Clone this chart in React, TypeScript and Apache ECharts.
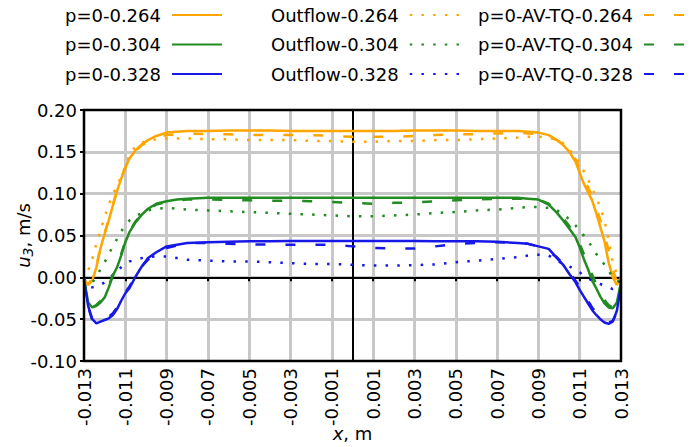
import React, { useEffect, useRef } from "react";
import * as echarts from "echarts";

// x positions (m)
const X = [
  -0.013, -0.0128, -0.0126, -0.0124, -0.0122, -0.012, -0.0118, -0.0116, -0.0114, -0.0112, -0.011,
  -0.0108, -0.0105, -0.0102, -0.0099, -0.0095, -0.009, -0.0085, -0.008,
  -0.007, -0.006, -0.005, -0.004, -0.003, -0.002, -0.001, 0, 0.001, 0.002, 0.003, 0.004, 0.005, 0.006, 0.007,
  0.008, 0.0085, 0.009, 0.0095, 0.0099, 0.0102, 0.0105, 0.0108,
  0.011, 0.0112, 0.0114, 0.0116, 0.0118, 0.012, 0.0122, 0.0124, 0.0126, 0.0128, 0.013,
];

// u3 (m/s)
const p264 = [
  -0.003, -0.009, -0.004, 0.012, 0.035, 0.052, 0.068, 0.086, 0.103, 0.118, 0.131,
  0.142, 0.152, 0.159, 0.164, 0.169, 0.173, 0.174, 0.175,
  0.175, 0.1755, 0.1755, 0.1755, 0.175, 0.175, 0.175, 0.175, 0.175, 0.175, 0.1755, 0.1755, 0.1755, 0.175, 0.175,
  0.175, 0.174, 0.173, 0.17, 0.164, 0.158, 0.15, 0.138,
  0.125, 0.112, 0.102, 0.092, 0.077, 0.06, 0.043, 0.018, 0.0, -0.009, 0.0,
];
const p304 = [
  -0.002, -0.03, -0.036, -0.034, -0.03, -0.024, -0.012, 0.002, 0.012, 0.026, 0.042,
  0.054, 0.066, 0.075, 0.082, 0.088, 0.091, 0.093, 0.094,
  0.095, 0.095, 0.095, 0.095, 0.095, 0.095, 0.095, 0.095, 0.095, 0.095, 0.095, 0.095, 0.095, 0.095, 0.095,
  0.095, 0.094, 0.093, 0.087, 0.077, 0.068, 0.058, 0.048,
  0.036, 0.022, 0.01, -0.004, -0.013, -0.023, -0.031, -0.036, -0.037, -0.03, -0.006,
];
const p328 = [
  -0.002, -0.034, -0.05, -0.055, -0.053, -0.051, -0.049, -0.045, -0.038, -0.028, -0.019,
  -0.013, 0.001, 0.013, 0.023, 0.03, 0.037, 0.039, 0.041,
  0.042, 0.0425, 0.043, 0.043, 0.0435, 0.0435, 0.0435, 0.0435, 0.0435, 0.0435, 0.0435, 0.043, 0.043, 0.043, 0.0425,
  0.041, 0.04, 0.037, 0.034, 0.023, 0.015, 0.004, -0.006,
  -0.015, -0.023, -0.031, -0.039, -0.045, -0.05, -0.054, -0.0555, -0.053, -0.04, -0.01,
];
const out264 = [
  -0.004, 0.008, 0.022, 0.04, 0.056, 0.072, 0.087, 0.099, 0.11, 0.12, 0.133,
  0.146, 0.157, 0.161, 0.163, 0.165, 0.166, 0.166, 0.166,
  0.165, 0.165, 0.164, 0.164, 0.164, 0.163, 0.163, 0.162, 0.162, 0.163, 0.163, 0.164, 0.164, 0.165, 0.166,
  0.167, 0.168, 0.168, 0.167, 0.164, 0.16, 0.153, 0.144,
  0.136, 0.127, 0.117, 0.107, 0.096, 0.083, 0.068, 0.045, 0.018, 0.004, 0.001,
];
const out304 = [
  -0.002, -0.008, -0.006, 0.0, 0.01, 0.018, 0.028, 0.037, 0.046, 0.055, 0.062,
  0.068, 0.073, 0.077, 0.08, 0.082, 0.083, 0.082, 0.081,
  0.08, 0.079, 0.078, 0.077, 0.076, 0.075, 0.074, 0.073, 0.073, 0.074, 0.075, 0.077, 0.078, 0.08, 0.081,
  0.083, 0.084, 0.084, 0.083, 0.08, 0.076, 0.069, 0.062,
  0.055, 0.05, 0.044, 0.036, 0.028, 0.022, 0.015, 0.008, 0.0, -0.004, -0.005,
];
const out328 = [
  -0.002, -0.011, -0.012, -0.011, -0.009, -0.006, -0.002, 0.003, 0.008, 0.012, 0.016,
  0.019, 0.021, 0.023, 0.024, 0.025, 0.025, 0.023, 0.021,
  0.02, 0.019, 0.019, 0.018, 0.017, 0.016, 0.016, 0.015, 0.014, 0.014, 0.0145, 0.0155, 0.018, 0.02, 0.022,
  0.024, 0.026, 0.027, 0.026, 0.02, 0.016, 0.013, 0.009,
  0.006, 0.002, -0.001, -0.004, -0.006, -0.008, -0.01, -0.012, -0.014, -0.012, -0.004,
];
const av264 = [
  -0.004, -0.008, -0.002, 0.014, 0.036, 0.053, 0.07, 0.087, 0.104, 0.119, 0.131,
  0.141, 0.151, 0.158, 0.162, 0.167, 0.17, 0.171, 0.172,
  0.171, 0.171, 0.17, 0.17, 0.17, 0.17, 0.169, 0.168, 0.168, 0.168, 0.169, 0.17, 0.171, 0.171, 0.172,
  0.173, 0.172, 0.171, 0.168, 0.164, 0.159, 0.152, 0.141,
  0.13, 0.118, 0.108, 0.097, 0.084, 0.068, 0.052, 0.032, 0.01, -0.006, -0.003,
];
const av304 = [
  -0.004, -0.031, -0.036, -0.033, -0.028, -0.021, -0.01, 0.003, 0.014, 0.028, 0.043,
  0.055, 0.067, 0.075, 0.081, 0.087, 0.09, 0.092, 0.093,
  0.093, 0.0925, 0.092, 0.0915, 0.0915, 0.091, 0.09, 0.089, 0.088, 0.089, 0.0895, 0.091, 0.092, 0.093, 0.094,
  0.094, 0.094, 0.093, 0.088, 0.079, 0.071, 0.061, 0.05,
  0.04, 0.028, 0.016, 0.003, -0.008, -0.018, -0.027, -0.033, -0.036, -0.03, -0.008,
];
const av328 = [
  -0.004, -0.036, -0.051, -0.054, -0.052, -0.05, -0.047, -0.043, -0.036, -0.027, -0.018,
  -0.011, 0.002, 0.013, 0.021, 0.029, 0.035, 0.038, 0.041,
  0.041, 0.04, 0.0395, 0.039, 0.039, 0.039, 0.039, 0.037, 0.035, 0.0345, 0.0345, 0.037, 0.04, 0.041, 0.042,
  0.041, 0.04, 0.037, 0.031, 0.024, 0.016, 0.006, -0.004,
  -0.012, -0.02, -0.028, -0.036, -0.042, -0.048, -0.052, -0.054, -0.052, -0.042, -0.012,
];

const X_TICK_MIN = -0.013;
const X_TICK_MAX = 0.013;
const X_TICK_STEP = 0.002;

const ORANGE = "#FFA500";
const GREEN = "#228B22";
const BLUE = "#1818E6";
const FONT = "DejaVu Sans";

const toMm = (x: number) => Math.round((x - X_TICK_MIN) * 1e6) / 1000; // offset in mm from -0.013

export default function App() {
  const ref = useRef<HTMLDivElement>(null);
  useEffect(() => {
    if (!ref.current) return;
    const chart = echarts.init(ref.current, null, { renderer: "svg" });
    const mk = (name: string, ys: number[], color: string, kind: "solid" | "dot" | "dash") => ({
      name,
      type: "line",
      symbol: "none",
      data: X.map((x, i) => [toMm(x), ys[i]]),
      lineStyle: {
        color,
        width: 2.5,
        type: kind === "solid" ? "solid" : kind === "dot" ? [2.5, 9.2] : [10, 20],
        cap: "butt",
      },
      itemStyle: { color },
      z: 3,
    });
    const series: any[] = [
      mk("p=0-0.264", p264, ORANGE, "solid"),
      mk("p=0-0.304", p304, GREEN, "solid"),
      mk("p=0-0.328", p328, BLUE, "solid"),
      mk("Outflow-0.264", out264, ORANGE, "dot"),
      mk("Outflow-0.304", out304, GREEN, "dot"),
      mk("Outflow-0.328", out328, BLUE, "dot"),
      mk("p=0-AV-TQ-0.264", av264, ORANGE, "dash"),
      mk("p=0-AV-TQ-0.304", av304, GREEN, "dash"),
      mk("p=0-AV-TQ-0.328", av328, BLUE, "dash"),
    ];
    series.push({
      type: "line",
      data: [],
      silent: true,
      z: 1,
      markLine: {
        silent: true,
        symbol: "none",
        label: { show: false },
        lineStyle: { color: "#000", width: 2, type: "solid" },
        z: 1,
        data: [{ xAxis: toMm(0) }, { yAxis: 0 }],
      },
    });
    const span = toMm(X_TICK_MAX);
    const step = Math.round(X_TICK_STEP * 1000);
    const legendBase = {
      orient: "vertical",
      align: "right",
      top: 5,
      padding: 0,
      itemWidth: 50,
      itemHeight: 10,
      itemGap: 9.5,
      selectedMode: false,
      itemStyle: { color: "rgba(0,0,0,0)", borderColor: "rgba(0,0,0,0)", borderWidth: 0 },
      textStyle: { fontFamily: FONT, fontSize: 18, color: "#000", lineHeight: 20, padding: [0, 6, 0, 0] },
    };
    const labelStyle = { fontFamily: FONT, fontSize: 18, color: "#000" };
    chart.setOption({
      animation: false,
      backgroundColor: "#fff",
      grid: {
        left: 84,
        right: 73,
        top: 110,
        bottom: 86,
        containLabel: false,
        outerBoundsMode: "none",
        show: true,
        borderColor: "#000",
        borderWidth: 2.5,
        backgroundColor: "transparent",
        z: 10,
      },
      legend: [
        { ...legendBase, left: 65, data: ["p=0-0.264", "p=0-0.304", "p=0-0.328"] },
        { ...legendBase, left: 271, data: ["Outflow-0.264", "Outflow-0.304", "Outflow-0.328"] },
        { ...legendBase, left: 478, data: ["p=0-AV-TQ-0.264", "p=0-AV-TQ-0.304", "p=0-AV-TQ-0.328"] },
      ],
      xAxis: [
        {
          type: "value",
          min: 0,
          max: span,
          interval: step,
          axisLine: { show: false },
          axisTick: { show: false },
          splitLine: { show: true, showMinLine: false, showMaxLine: false, lineStyle: { color: "#c8c8c8", width: 3 } },
          axisLabel: {
            ...labelStyle,
            rotate: 90,
            margin: 7,
            formatter: (v: number) => ((v / 1000) + X_TICK_MIN).toFixed(3),
          },
          name: "{i|x}{n|, m}",
          nameLocation: "middle",
          nameGap: 63,
          nameMoveOverlap: false,
          nameTextStyle: {
            ...labelStyle,
            rich: {
              i: { fontFamily: FONT, fontSize: 18, fontStyle: "italic", color: "#000" },
              n: { fontFamily: FONT, fontSize: 18, color: "#000" },
            },
          },
        },
        {
          type: "value",
          position: "top",
          min: 0,
          max: span,
          interval: step,
          z: 11,
          axisLine: { show: false },
          axisTick: { show: true, inside: true, length: 4, lineStyle: { color: "#000", width: 2 } },
          axisLabel: { show: false },
          splitLine: { show: false },
        },
      ],
      yAxis: [
        {
          type: "value",
          min: -0.1,
          max: 0.2,
          interval: 0.05,
          axisLine: { show: false },
          axisTick: { show: false },
          splitLine: { show: true, showMinLine: false, showMaxLine: false, lineStyle: { color: "#c8c8c8", width: 3 } },
          axisLabel: { ...labelStyle, margin: 7, formatter: (v: number) => v.toFixed(2) },
          name: "{i|u}{s|3}{n|, m/s}",
          nameLocation: "middle",
          nameGap: 49,
          nameMoveOverlap: false,
          nameTextStyle: {
            ...labelStyle,
            rich: {
              i: { fontFamily: FONT, fontSize: 18, fontStyle: "italic", color: "#000", lineHeight: 24 },
              s: { fontFamily: FONT, fontSize: 14, fontStyle: "italic", color: "#000", verticalAlign: "bottom", lineHeight: 14 },
              n: { fontFamily: FONT, fontSize: 18, color: "#000", lineHeight: 24 },
            },
          },
        },
        {
          type: "value",
          position: "right",
          min: -0.1,
          max: 0.2,
          interval: 0.05,
          z: 11,
          axisLine: { show: false },
          axisTick: { show: true, inside: true, length: 4, lineStyle: { color: "#000", width: 2 } },
          axisLabel: { show: false },
          splitLine: { show: false },
        },
      ],
      series,
    });
    return () => chart.dispose();
  }, []);
  return <div ref={ref} style={{ width: 694, height: 447, position: "absolute", left: 0, top: 0 }} />;
}
